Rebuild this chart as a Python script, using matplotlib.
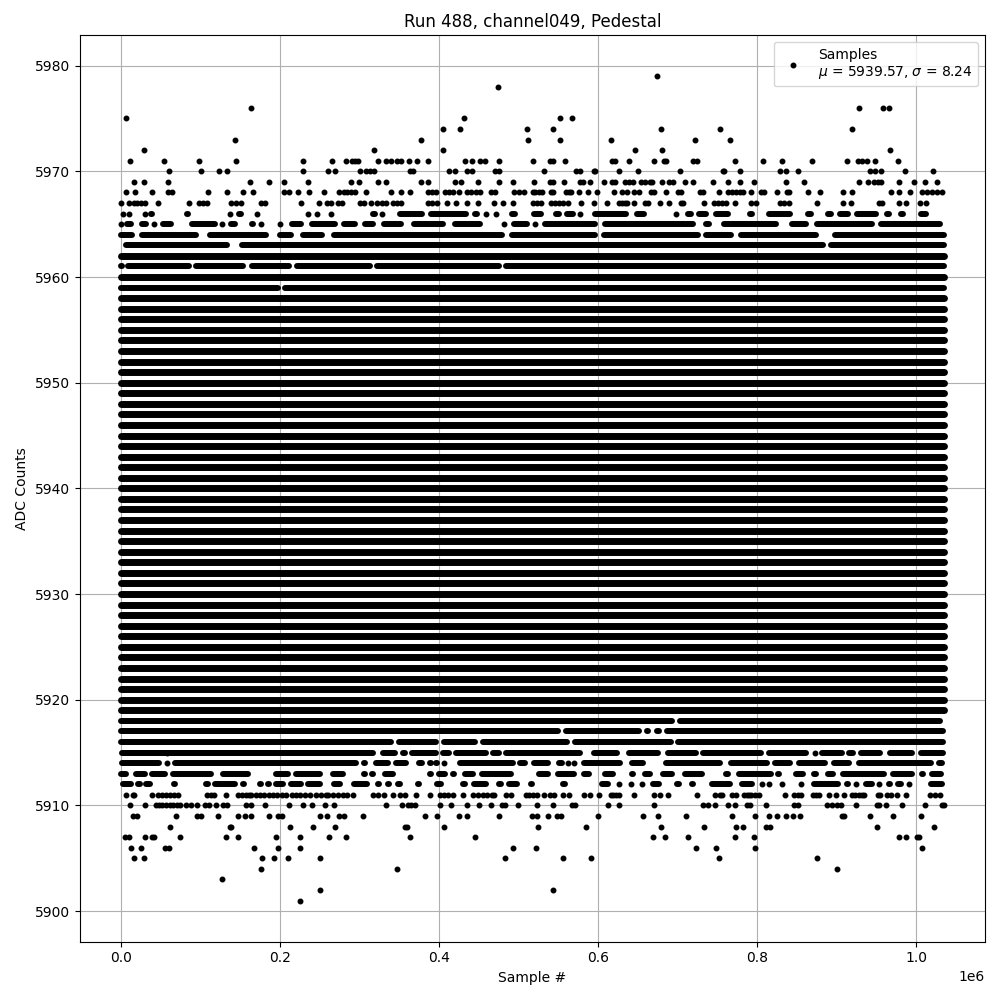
import matplotlib
matplotlib.use("Agg")
import matplotlib.pyplot as plt

# Sample positions in thousands of samples, one list per ADC level
x_5979 = [674]
x_5978 = [474]
x_5976 = [164, 928, 959, 966]
x_5975 = [7, 432, 553, 567]
x_5974 = [405, 427, 511, 543, 679, 754, 920]
x_5973 = [144, 378, 512, 553, 616, 722, 766]
x_5972 = [29, 318, 405, 647, 680, 967]
x_5971 = [12, 54, 99, 145, 229, 266, 283, 291, 295, 298, 324, 334, 340, 347, 353, 362, 372, 386,
          433, 442, 452, 458, 476, 518, 540, 543, 559, 618, 622, 639, 671, 683, 686, 720, 725,
          773, 808, 832, 869, 913, 927, 932, 938, 948, 977]
x_5970 = [61, 101, 124, 134, 229, 261, 270, 301, 309, 313, 318, 364, 367, 413, 420, 436, 442, 471,
          476, 532, 572, 577, 595, 597, 626, 650, 703, 757, 759, 779, 829, 836, 851, 942, 948,
          956, 986, 1021]
x_5969 = [17, 29, 60, 163, 186, 205, 235, 290, 300, 324, 334, 378, 387, 420, 428, 449, 476, 493,
          520, 540, 544, 557, 577, 581, 590, 608, 618, 621, 634, 639, 644, 654, 659, 665, 668,
          680, 689, 695, 710, 720, 745, 764, 779, 796, 836, 859, 928, 940, 947, 952, 956, 978,
          998, 1011, 1026]
x_5968 = [7, 18, 40, 60, 65, 110, 134, 154, 166, 205, 212, 223, 237, 256, 275, 281, 285, 290, 295,
          309, 340, 353, 364, 387, 392, 397, 408, 413, 418, 426, 435, 440, 447, 452, 466, 471,
          495, 501, 507, 518, 521, 526, 530, 541, 543, 560, 564, 566, 576, 588, 599, 620, 630,
          637, 646, 652, 667, 671, 686, 701, 705, 729, 732, 752, 764, 769, 774, 779, 782, 792,
          805, 809, 825, 838, 840, 864, 879, 908, 920, 968, 978, 992, 1008, 1014, 1020, 1026, 1033]
x_5967 = [1, 11, 17, 21, 26, 30, 47, 86, 98, 103, 109, 139, 145, 151, 176, 182, 227, 249, 259, 264,
          273, 278, 301, 306, 315, 322, 328, 334, 342, 348, 352, 386, 392, 398, 410, 421, 436,
          449, 470, 481, 493, 518, 524, 528, 541, 546, 551, 556, 563, 579, 595, 611, 626, 630,
          634, 637, 646, 659, 663, 678, 689, 705, 707, 733, 746, 751, 756, 761, 773, 793, 799,
          829, 834, 840, 876, 908, 918, 954, 957, 978, 987, 1005, 1012]
x_5966 = [3, 11, 30, 137, 172, 236, 247, 265, 329, 459, 472, 578, 698]
x_5965 = [0, 42, 127, 177, 200, 482, 521]
x_5915 = [58, 873]
x_5914 = [58, 407, 562, 570]
x_5912 = [627, 642, 656, 806, 815, 832, 856, 925, 954, 991]
x_5911 = [7, 15, 17, 39, 47, 52, 57, 62, 67, 72, 108, 113, 117, 132, 147, 152, 157, 161, 164, 170,
          175, 180, 186, 191, 197, 203, 208, 216, 221, 226, 232, 238, 245, 252, 258, 261, 267,
          273, 279, 285, 292, 317, 323, 331, 343, 351, 357, 371, 389, 401, 407, 412, 418, 430,
          443, 449, 455, 461, 467, 470, 484, 491, 509, 514, 518, 523, 532, 540, 545, 556, 564,
          582, 590, 601, 616, 619, 623, 626, 646, 670, 678, 688, 725, 747, 753, 756, 769, 774,
          784, 787, 790, 793, 797, 802, 835, 847, 851, 855, 870, 874, 878, 891, 900, 909, 920,
          923, 928, 932, 935, 952, 955, 964, 969, 976, 987, 1017, 1024, 1030]
x_5910 = [12, 30, 44, 48, 52, 57, 62, 66, 71, 75, 82, 88, 96, 106, 111, 120, 129, 134, 158, 164,
          181, 212, 229, 241, 257, 268, 334, 354, 361, 365, 370, 402, 415, 436, 450, 465, 480,
          483, 499, 524, 544, 567, 571, 613, 627, 670, 732, 738, 747, 764, 772, 788, 791, 812,
          847, 851, 888, 895, 901, 906, 925, 951, 954, 962, 983, 1011, 1033, 1035]
x_5909 = [15, 20, 70, 96, 101, 122, 148, 156, 164, 187, 198, 203, 250, 259, 274, 281, 305, 383,
          398, 425, 435, 476, 517, 524, 537, 549, 554, 600, 657, 676, 711, 769, 797, 815, 825,
          837, 845, 854, 907, 910, 942, 971, 1006]
x_5908 = [62, 137, 139, 213, 242, 269, 357, 360, 407, 525, 585, 679, 733, 774, 782, 811, 817, 951,
          1022]
x_5907 = [6, 10, 30, 39, 42, 75, 133, 148, 195, 226, 262, 283, 364, 446, 669, 685, 713, 773, 796,
          978, 988, 1001, 1004]
x_5906 = [13, 25, 56, 61, 168, 198, 225, 493, 522, 724, 748, 798, 1007]
x_5905 = [17, 29, 178, 193, 211, 251, 483, 556, 591, 752, 875]
x_5904 = [176, 347, 901]
x_5903 = [127]
x_5902 = [250, 543]
x_5901 = [225]

# Runs of overlapping dots, (outer left edge, outer right edge) of each run, thousands of samples
runs_5966 = [(18, 25), (36, 42), (52, 59), (81, 87), (111, 119), (147, 153), (287, 294), (316, 321),
             (348, 382), (386, 438), (444, 449), (488, 499), (505, 512), (516, 532), (547, 551),
             (558, 572), (593, 639), (646, 662), (669, 677), (681, 688), (713, 717), (723, 740),
             (745, 767), (790, 795), (812, 845), (861, 872), (889, 893), (901, 918), (922, 954),
             (960, 970), (978, 987), (1002, 1016), (1029, 1036)]
runs_5965 = [(4, 17), (23, 35), (50, 67), (73, 81), (86, 122), (135, 147), (161, 170), (212, 231),
             (237, 273), (277, 298), (304, 321), (327, 356), (365, 409), (417, 455), (461, 468),
             (491, 514), (530, 600), (605, 723), (732, 743), (755, 828), (840, 866), (872, 948),
             (952, 1034)]
runs_5964 = [(-3.5, 18), (23, 98), (108, 187), (196, 218), (225, 257), (264, 483), (488, 600),
             (604, 730), (732, 771), (776, 878), (883, 891), (894, 1038.5)]
runs_5963 = [(3, 138), (140, 147), (149, 887), (890, 1038.5)]
runs_5961 = [(-2, 4), (5, 89), (91, 158), (161, 215), (218, 317), (319, 479), (481, 1038.5)]
runs_5959 = [(-3.5, 202), (203, 1038.5)]
runs_5918 = [(-3.5, 697), (699, 1034)]
runs_5917 = [(-3.5, 553), (556, 656), (658, 667), (671, 681), (683, 1038)]
runs_5916 = [(-3.5, 344), (346, 400), (403, 449), (452, 565), (568, 696), (697, 1038)]
runs_5915 = [(-2, 321), (326, 349), (351, 361), (363, 400), (402, 417), (418, 463), (464, 479),
             (481, 581), (592, 628), (635, 679), (684, 727), (729, 809), (812, 866), (878, 911),
             (912, 925), (927, 959), (964, 999), (1003, 1038)]
runs_5914 = [(-2, 52), (64, 300), (303, 310), (317, 340), (342, 363), (371, 383), (386, 392),
             (394, 400), (423, 497), (499, 512), (516, 541), (548, 558), (579, 631), (639, 660),
             (682, 757), (764, 816), (819, 845), (849, 889), (893, 920), (925, 1023), (1025, 1036)]
runs_5913 = [(-3, 10), (15, 34), (36, 59), (62, 117), (125, 164), (166, 174), (181, 189), (192, 214),
             (217, 254), (263, 283), (303, 310), (313, 320), (329, 346), (349, 356), (377, 384),
             (387, 393), (397, 411), (415, 421), (429, 447), (451, 495), (509, 516), (522, 541),
             (546, 574), (579, 593), (605, 623), (641, 647), (655, 669), (678, 697), (706, 734),
             (757, 767), (774, 822), (824, 830), (845, 862), (871, 876), (886, 899), (904, 964),
             (967, 999), (1004, 1013), (1017, 1035)]
runs_5912 = [(-1, 17), (20, 25), (28, 40), (63, 72), (103, 113), (115, 148), (150, 159), (161, 169),
             (171, 180), (182, 190), (192, 208), (211, 231), (232, 254), (264, 279), (290, 314),
             (321, 327), (334, 340), (347, 353), (371, 377), (394, 407), (429, 434), (440, 463),
             (465, 472), (474, 480), (485, 502), (514, 520), (537, 545), (553, 562), (579, 586),
             (601, 616), (665, 681), (696, 706), (716, 722), (730, 737), (740, 770), (777, 797),
             (868, 906), (910, 918), (933, 948), (962, 971), (974, 985), (1015, 1036)]

# Levels where the dots merge into one unbroken band
solid_levels = list(range(5919, 5959)) + [5960, 5962]
solid_start = -3.5
solid_end = 1038.5

point_levels = [(5979, x_5979), (5978, x_5978), (5976, x_5976), (5975, x_5975), (5974, x_5974),
                (5973, x_5973), (5972, x_5972), (5971, x_5971), (5970, x_5970), (5969, x_5969),
                (5968, x_5968), (5967, x_5967), (5966, x_5966), (5965, x_5965), (5915, x_5915),
                (5914, x_5914), (5912, x_5912), (5911, x_5911), (5910, x_5910), (5909, x_5909),
                (5908, x_5908), (5907, x_5907), (5906, x_5906), (5905, x_5905), (5904, x_5904),
                (5903, x_5903), (5902, x_5902), (5901, x_5901)]
run_levels = [(5966, runs_5966), (5965, runs_5965), (5964, runs_5964), (5963, runs_5963),
              (5961, runs_5961), (5959, runs_5959), (5918, runs_5918), (5917, runs_5917),
              (5916, runs_5916), (5915, runs_5915), (5914, runs_5914), (5913, runs_5913),
              (5912, runs_5912)]

mean_adc = 5939.57
sigma_adc = 8.24
dot_radius = 3.7  # half a dot, in thousands of samples

fig, ax = plt.subplots(figsize=(10, 10), dpi=100)

xs = []
ys = []
for level, positions in point_levels:
    for pos in positions:
        xs.append(pos * 1000)
        ys.append(level)
ax.plot(xs, ys, 'k.', ms=6.5, label=f"Samples\n$\\mu$ = {mean_adc}, $\\sigma$ = {sigma_adc}")

for level, runs in run_levels:
    for start, end in runs:
        ax.plot([(start + dot_radius) * 1000, (end - dot_radius) * 1000], [level, level],
                color='k', lw=4.3, solid_capstyle='round')

for level in solid_levels:
    ax.plot([(solid_start + dot_radius) * 1000, (solid_end - dot_radius) * 1000], [level, level],
            color='k', lw=5, solid_capstyle='round')

ax.set_title("Run 488, channel049, Pedestal")
ax.set_xlabel("Sample #")
ax.set_ylabel("ADC Counts")
ax.grid(True)
ax.legend(loc='upper right')
fig.tight_layout()
fig.subplots_adjust(top=0.965)
fig.savefig("out.png", dpi=100)
